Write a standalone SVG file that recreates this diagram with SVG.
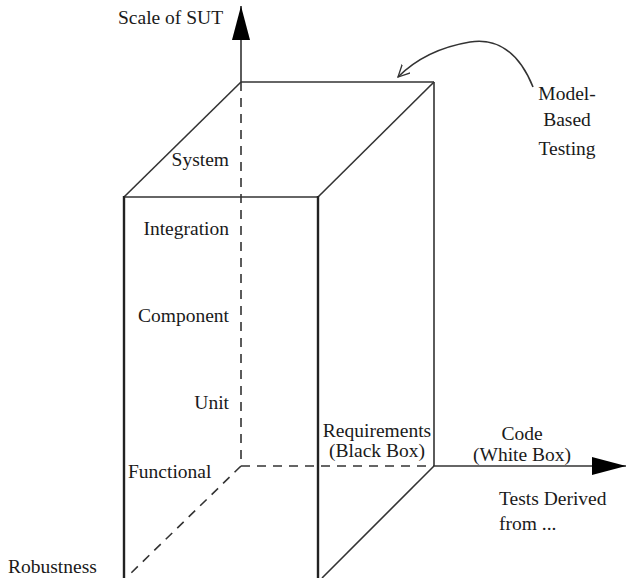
<svg xmlns="http://www.w3.org/2000/svg" width="627" height="578" viewBox="0 0 627 578">
<style>
.lb text{font-size:19.5px;fill:#1a1a1a}
.e{stroke:#333;stroke-width:1.6;fill:none}
.t{stroke:#222;stroke-width:2.4;fill:none}
.d{stroke:#333;stroke-width:1.6;fill:none;stroke-dasharray:9 7}
</style>
<defs>
<marker id="big" markerWidth="36" markerHeight="20" refX="34" refY="9" orient="auto" markerUnits="userSpaceOnUse">
<path d="M0,0 L34,9 L0,18 Z" fill="#000"/>
</marker>
<marker id="open" markerWidth="14" markerHeight="14" refX="12" refY="6" orient="auto" markerUnits="userSpaceOnUse">
<path d="M0,0 L12,6 L0,12" fill="none" stroke="#333" stroke-width="1.3"/>
</marker>
</defs>
<rect width="627" height="578" fill="#fff"/>
<g id="connectors">
<line class="e" x1="241" y1="82" x2="241" y2="6" marker-end="url(#big)"/>
<line class="e" x1="434" y1="466" x2="626" y2="466" marker-end="url(#big)"/>
<path class="e" d="M533,87 C518,50 495,38 470,42 C440,47 415,60 398,77" stroke-width="1.3" marker-end="url(#open)"/>
</g>
<g id="box">
<line class="e" x1="241" y1="82" x2="434" y2="82"/>
<line class="e" x1="434" y1="82" x2="434" y2="466"/>
<line class="e" x1="124" y1="197" x2="241" y2="82"/>
<line class="e" x1="318" y1="197" x2="434" y2="82"/>
<line class="e" x1="124" y1="197" x2="318" y2="197"/>
<line class="t" x1="124" y1="196" x2="124" y2="578"/>
<line class="t" x1="318" y1="196" x2="318" y2="578"/>
<line class="e" x1="434" y1="466" x2="322" y2="578"/>
<line class="d" x1="241" y1="82" x2="241" y2="466"/>
<line class="d" x1="241" y1="466" x2="434" y2="466"/>
<line class="d" x1="241" y1="466" x2="128" y2="576"/>
</g>
<g id="labels" class="lb" font-family="'Liberation Serif', 'Times New Roman', Tinos, 'DejaVu Serif', serif">
<text x="118" y="24">Scale of SUT</text>
<text x="567" y="100" text-anchor="middle">Model-</text>
<text x="567" y="126" text-anchor="middle">Based</text>
<text x="567" y="155" text-anchor="middle">Testing</text>
<text x="229" y="166" text-anchor="end">System</text>
<text x="229" y="235" text-anchor="end">Integration</text>
<text x="229" y="322" text-anchor="end">Component</text>
<text x="229" y="409" text-anchor="end">Unit</text>
<text x="128" y="478">Functional</text>
<text x="8" y="573">Robustness</text>
<text x="377" y="437" text-anchor="middle">Requirements</text>
<text x="377" y="457" text-anchor="middle">(Black Box)</text>
<text x="522" y="440" text-anchor="middle">Code</text>
<text x="522" y="461" text-anchor="middle">(White Box)</text>
<text x="499" y="505">Tests Derived</text>
<text x="499" y="530">from ...</text>
</g>
</svg>
